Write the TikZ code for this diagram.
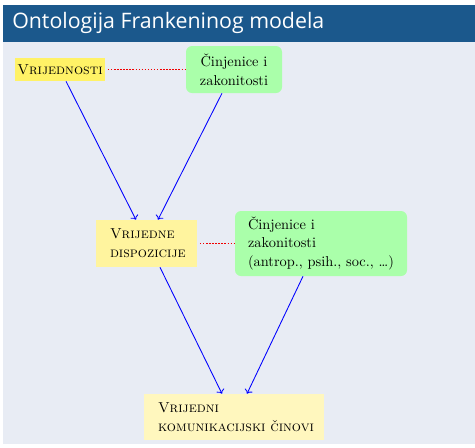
\documentclass[tikz,border=0pt]{standalone}
\usepackage{fontspec}
\newfontfamily\titlefont{Open Sans}
\usepackage{tikz}
\usetikzlibrary{arrows.meta,positioning,calc}
\definecolor{BarBlue}{RGB}{27,88,140}
\definecolor{PageGrey}{RGB}{232,236,244}
\definecolor{ValYellow}{RGB}{255,242,102}
\definecolor{DispYellow}{RGB}{255,244,158}
\definecolor{ActYellow}{RGB}{255,247,190}
\definecolor{FactGreen}{RGB}{170,255,170}
\definecolor{TieRed}{RGB}{240,0,0}

\begin{document}
\begin{tikzpicture}[x=0.75pt,y=-0.75pt,>=To,
  every node/.style={font=\fontsize{10.8}{14}\selectfont},
  valbox/.style={fill=#1,inner sep=0pt},
  factbox/.style={fill=FactGreen,rounded corners=4.5pt,inner sep=0pt},
  link/.style={->,blue,line width=0.65pt},
  tie/.style={draw=TieRed,line width=1.1pt,dash pattern=on 1.1pt off 1.2pt}]
  \useasboundingbox (0,0) rectangle (475,447);
  \fill[PageGrey] (3,42) rectangle (475,444);
  \fill[BarBlue] (3,5) rectangle (475,42);
  \node[anchor=west,inner sep=0pt,text=white,font=\titlefont\fontsize{16}{18}\selectfont] (title) at (12,23) {Ontologija Frankeninog modela};
  % gornji red
  \node[valbox=ValYellow,minimum width=67.5pt,minimum height=17.25pt] (vr) at (60,69.5) {\textsc{Vrijednosti}};
  \node[factbox,minimum width=72pt,minimum height=35.25pt,align=center] (cz) at (234,69.5) {Činjenice i\\zakonitosti};
  % srednji red
  \node[valbox=DispYellow,minimum width=75.75pt,minimum height=35.25pt,inner xsep=10.5pt,text width=54.75pt,align=left] (disp) at (146.5,243.5) {\textsc{Vrijedne}\\\textsc{dispozicije}};
  \node[factbox,minimum width=129pt,minimum height=48.75pt,inner xsep=9.75pt,text width=109.5pt,align=left] (czb) at (321,243.5) {Činjenice i\\zakonitosti\\(antrop., psih., soc., \dots)};
  % donji red
  \node[valbox=ActYellow,minimum width=135pt,minimum height=34.5pt,inner xsep=10.5pt,text width=114pt,align=left] (act) at (234,417) {\textsc{Vrijedni}\\\mbox{\textsc{komunikacijski činovi}}};
  % veze
  \draw[tie] ([xshift=2pt]vr.east) -- (cz.west);
  \draw[tie] ([xshift=2pt]disp.east) -- (czb.west);
  \draw[link] ([xshift=4.5pt]vr.south) -- ([xshift=-7.9pt]disp.north);
  \draw[link] ([xshift=-9pt]cz.south) -- ([xshift=8.6pt]disp.north);
  \draw[link] ([xshift=10.1pt]disp.south) -- ([xshift=-9pt]act.north);
  \draw[link] ([xshift=-13.5pt]czb.south) -- ([xshift=9.75pt]act.north);
\end{tikzpicture}
\end{document}
